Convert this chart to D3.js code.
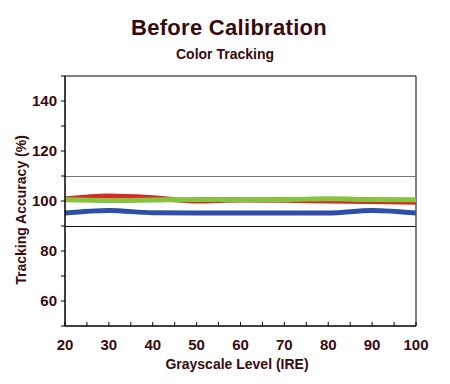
<!DOCTYPE html>
<html>
<head>
<meta charset="utf-8">
<script src="https://cdn.jsdelivr.net/npm/d3@7"></script>
<style>
  body { margin: 0; background: #fff; }
  text { font-family: "Liberation Sans", Arial, sans-serif; font-weight: bold; fill: #3a0a0a; }
</style>
</head>
<body>
<svg id="chart" width="450" height="384"></svg>
<script>
// grayscale levels
var levels = [20, 30, 40, 50, 60, 70, 80, 90, 100];
var red   = [100.8, 102, 101.3, 100, 100.4, 100.3, 100, 99.8, 99.5];
var green = [100.5, 100.2, 100.4, 100.6, 100.6, 100.6, 100.9, 100.6, 100.5];
var blue  = [95.2, 96.2, 95.3, 95.2, 95.2, 95.2, 95.2, 96.2, 95.2];
var xTicks = [20, 30, 40, 50, 60, 70, 80, 90, 100];
var yTicks = [60, 80, 100, 120, 140];
var refLines = [110, 90];

var svg = d3.select('#chart');
var margin = {left: 65, right: 34, top: 76, bottom: 58};
var w = 450 - margin.left - margin.right,
    h = 384 - margin.top - margin.bottom;

var x = d3.scaleLinear().domain([20, 100]).range([0, w]);
var y = d3.scaleLinear().domain([50, 150]).range([h, 0]);

svg.append('text').attr('x', 229).attr('y', 35).attr('text-anchor', 'middle')
  .style('font-size', '22px').style('letter-spacing', '0.3px').text('Before Calibration');
svg.append('text').attr('x', 225).attr('y', 59).attr('text-anchor', 'middle')
  .style('font-size', '14px').text('Color Tracking');

var g = svg.append('g').attr('transform', 'translate(' + margin.left + ',' + margin.top + ')');

// frame top and right
g.append('line').attr('x1', 0).attr('x2', w).attr('y1', 0).attr('y2', 0).attr('stroke', '#000');
g.append('line').attr('x1', w).attr('x2', w).attr('y1', 0).attr('y2', h).attr('stroke', '#000');

// reference lines
g.selectAll('.ref').data(refLines).enter().append('line')
  .attr('x1', 0).attr('x2', w)
  .attr('y1', function(d) { return y(d) + 0.5; })
  .attr('y2', function(d) { return y(d) + 0.5; })
  .attr('stroke', function(d, i) { return i == 0 ? '#777' : '#111'; })
  .attr('stroke-width', 1.2);

var line = d3.line().curve(d3.curveMonotoneX)
  .x(function(d, i) { return x(levels[i]); })
  .y(function(d) { return y(d); });

[[blue, '#2f4fa6'], [red, '#d62b25'], [green, '#86c440']].forEach(function(s) {
  g.append('path').datum(s[0]).attr('d', line)
    .attr('fill', 'none').attr('stroke', s[1]).attr('stroke-width', 5);
});

// axes
var xAxis = g.append('g').attr('transform', 'translate(0,' + h + ')');
xAxis.append('line').attr('x1', 0).attr('x2', w).attr('stroke', '#000').attr('stroke-width', 1.5);
xAxis.selectAll('.mt').data(d3.range(20, 101, 5)).enter().append('line')
  .attr('x1', function(d) { return x(d); }).attr('x2', function(d) { return x(d); })
  .attr('y1', 0).attr('y2', -4).attr('stroke', '#000');
xAxis.selectAll('.lbl').data(xTicks).enter().append('text')
  .attr('x', function(d) { return x(d); }).attr('y', 24).attr('text-anchor', 'middle')
  .style('font-size', '15px').text(function(d) { return d; });

var yAxis = g.append('g');
yAxis.append('line').attr('y1', 0).attr('y2', h).attr('stroke', '#000').attr('stroke-width', 1.5);
yAxis.selectAll('.mt').data(d3.range(50, 151, 10)).enter().append('line')
  .attr('y1', function(d) { return y(d); }).attr('y2', function(d) { return y(d); })
  .attr('x1', 0).attr('x2', -4).attr('stroke', '#000');
yAxis.selectAll('.lbl').data(yTicks).enter().append('text')
  .attr('x', -8).attr('y', function(d) { return y(d) + 5; }).attr('text-anchor', 'end')
  .style('font-size', '15px').text(function(d) { return d; });

svg.append('text').attr('x', 237).attr('y', 369).attr('text-anchor', 'middle')
  .style('font-size', '14px').text('Grayscale Level (IRE)');
svg.append('text').attr('transform', 'translate(26,210) rotate(-90)').attr('text-anchor', 'middle')
  .style('font-size', '14px').text('Tracking Accuracy (%)');
</script>
</body>
</html>
